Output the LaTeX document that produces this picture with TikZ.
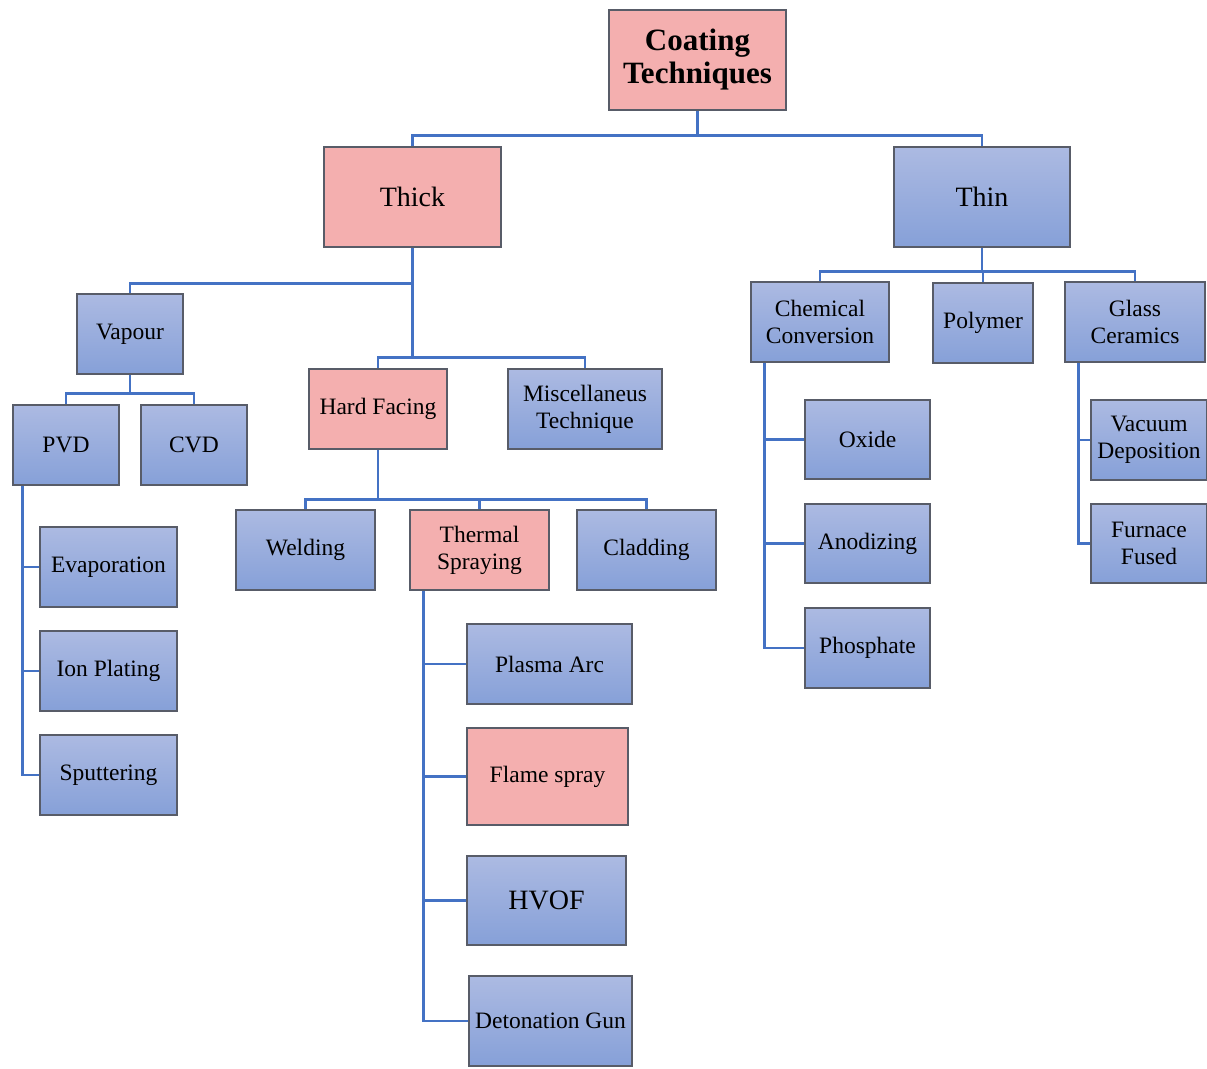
\documentclass[tikz,border=0pt]{standalone}
\usepackage{fontspec}
\setmainfont{Liberation Serif}
\usetikzlibrary{calc,backgrounds}
\definecolor{bluetop}{RGB}{172,186,226}
\definecolor{bluebot}{RGB}{134,160,216}
\definecolor{pinkfill}{RGB}{244,175,175}
\definecolor{boxline}{RGB}{88,92,104}
\definecolor{conn}{RGB}{68,114,196}
\tikzset{
  basebox/.style={draw=boxline, line width=1.2pt, inner sep=0pt, align=center, font=\fontsize{23.5}{27}\selectfont},
  bbox/.style={basebox, top color=bluetop, bottom color=bluebot},
  pbox/.style={basebox, fill=pinkfill},
  wh/.style 2 args={minimum width=#1, minimum height=#2},
  link/.style={draw=conn, line width=2.8pt}
}
\begin{document}
\begin{tikzpicture}[x=1pt,y=-1pt]
\useasboundingbox (0,0) rectangle (1207,1068);
% nodes
\node[pbox, wh={177}{100}, font=\bfseries\fontsize{31}{33}\selectfont] (coat) at (697.5,60) {Coating\\Techniques};
\node[pbox, wh={177}{100}, font=\fontsize{28}{30}\selectfont] (thick) at (412.5,197) {Thick};
\node[bbox, wh={176}{100}, font=\fontsize{28}{30}\selectfont] (thin) at (982,197) {Thin};
\node[bbox, wh={106}{80}] (vap) at (130,334) {Vapour};
\node[pbox, wh={138}{80}] (hard) at (378,409) {Hard Facing};
\node[bbox, wh={154}{80}] (misc) at (585,409) {Miscellaneus\\Technique};
\node[bbox, wh={106}{80}] (pvd) at (66,445) {PVD};
\node[bbox, wh={106}{80}] (cvd) at (194,445) {CVD};
\node[bbox, wh={137}{80}] (evap) at (108.5,567) {Evaporation};
\node[bbox, wh={137}{80}] (ion) at (108.5,671) {Ion Plating};
\node[bbox, wh={137}{80}] (sput) at (108.5,775) {Sputtering};
\node[bbox, wh={139}{80}] (weld) at (305.5,550) {Welding};
\node[pbox, wh={139}{80}] (therm) at (479.5,550) {Thermal\\Spraying};
\node[bbox, wh={139}{80}] (clad) at (646.5,550) {Cladding};
\node[bbox, wh={165}{80}] (plasma) at (549.5,664) {Plasma Arc};
\node[pbox, wh={161}{97}] (flame) at (547.5,776.5) {Flame spray};
\node[bbox, wh={159}{89}, font=\fontsize{28}{30}\selectfont] (hvof) at (546.5,900.5) {HVOF};
\node[bbox, wh={163}{90}] (deto) at (550.5,1021) {Detonation Gun};
\node[bbox, wh={138}{80}] (chem) at (820,322) {Chemical\\Conversion};
\node[bbox, wh={100}{80}] (poly) at (983,323) {Polymer};
\node[bbox, wh={140}{80}] (glass) at (1135,322) {Glass\\Ceramics};
\node[bbox, wh={125}{79}] (oxide) at (867.5,439.5) {Oxide};
\node[bbox, wh={125}{79}] (anod) at (867.5,543.5) {Anodizing};
\node[bbox, wh={125}{80}] (phos) at (867.5,648) {Phosphate};
\node[bbox, wh={116}{80}] (vacd) at (1149,440) {Vacuum\\Deposition};
\node[bbox, wh={116}{79}] (furn) at (1149,543.5) {Furnace\\Fused};
% connectors
\begin{scope}[on background layer]
\draw[link] (coat.south) -- ++(0,25) coordinate (b1);
\draw[link] (thick.north) |- (b1) -| (thin.north);
\draw[link] (thick.south) -- ++(0,110) coordinate (b2);
\draw[link] (thick.south) -- ++(0,36) coordinate (bv) -| (vap.north);
\draw[link] (hard.north) |- (b2) -| (misc.north);
\draw[link] (vap.south) -- ++(0,19) coordinate (b3);
\draw[link] (pvd.north) |- (b3) -| (cvd.north);
\coordinate (ps) at ($(pvd.south west)+(10,0)$);
\draw[link] (ps) |- (evap.west);
\draw[link] (ps) |- (ion.west);
\draw[link] (ps) |- (sput.west);
\draw[link] (hard.south) -- ++(0,50) coordinate (b4);
\draw[link] (weld.north) |- (b4) -| (clad.north);
\draw[link] (b4) -| (therm.north);
\coordinate (ts) at ($(therm.south west)+(14,0)$);
\draw[link] (ts) |- (plasma.west);
\draw[link] (ts) |- (flame.west);
\draw[link] (ts) |- (hvof.west);
\draw[link] (ts) |- (deto.west);
\draw[link] (thin.south) -- ++(0,24) coordinate (b5);
\draw[link] (chem.north) |- (b5) -| (glass.north);
\draw[link] (b5) -| (poly.north);
\coordinate (cs) at ($(chem.south west)+(14,0)$);
\draw[link] (cs) |- (oxide.west);
\draw[link] (cs) |- (anod.west);
\draw[link] (cs) |- (phos.west);
\coordinate (gs) at ($(glass.south west)+(14,0)$);
\draw[link] (gs) |- (vacd.west);
\draw[link] (gs) |- (furn.west);
\end{scope}
\end{tikzpicture}
\end{document}
